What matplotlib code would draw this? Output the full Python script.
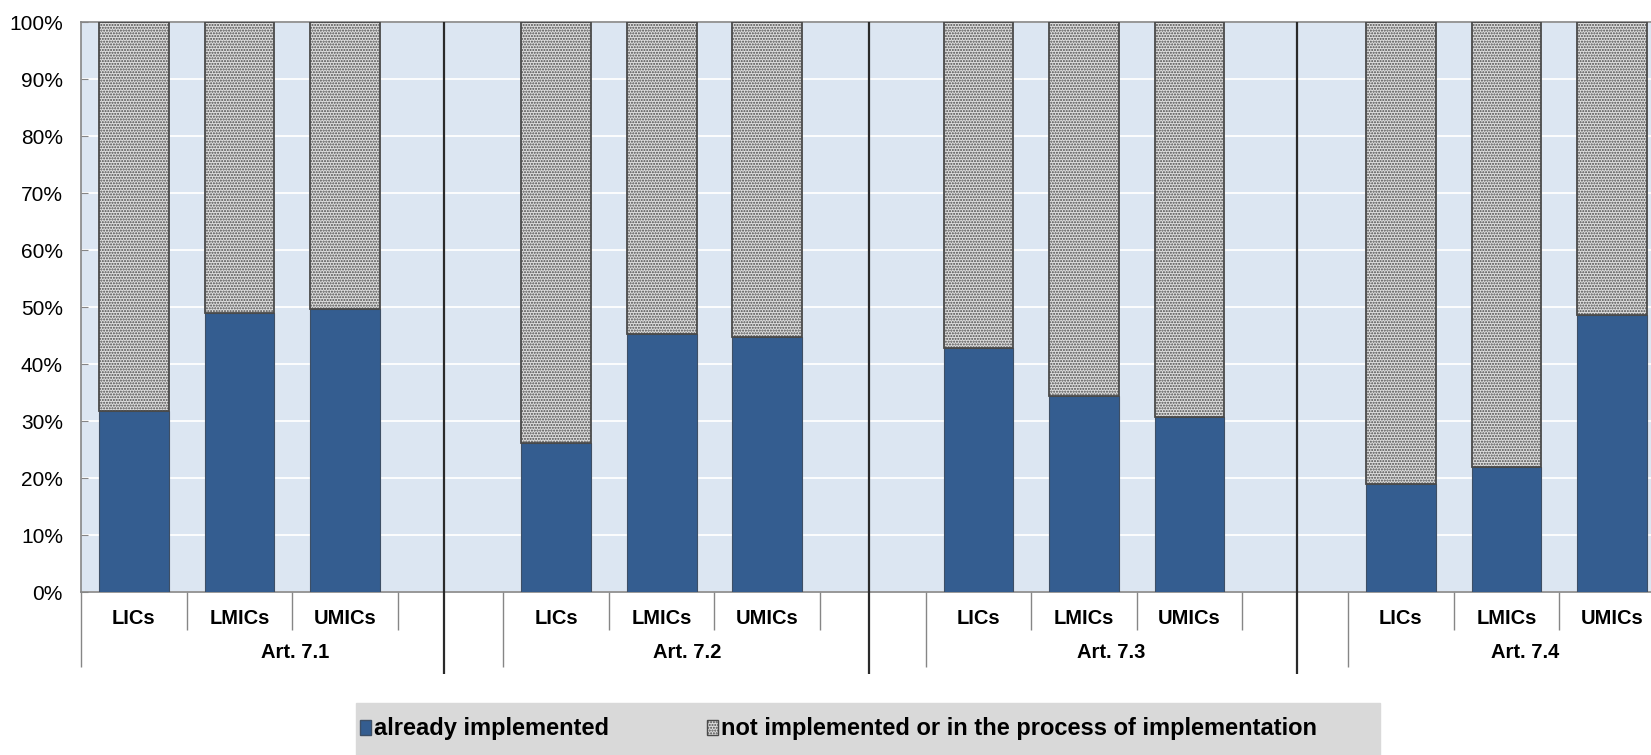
import numpy as np
import matplotlib.pyplot as plt
from matplotlib.patches import Patch, Rectangle

plt.rcParams['font.family'] = ['Liberation Sans', 'DejaVu Sans']
plt.rcParams['hatch.linewidth'] = 1.0

groups = ['Art. 7.1', 'Art. 7.2', 'Art. 7.3', 'Art. 7.4']
income = ['LICs', 'LMICs', 'UMICs']
# share "already implemented" (%) per group, order LICs, LMICs, UMICs
art71 = [31.8, 48.9, 49.6]
art72 = [26.2, 45.3, 44.8]
art73 = [42.8, 34.4, 30.7]
art74 = [19.0, 21.9, 48.7]

impl = np.array(art71 + art72 + art73 + art74)
rest = 100 - impl
x = np.array([g * 4 + i + 0.5 for g in range(len(groups)) for i in range(len(income))])
labels = income * len(groups)

# layout of the two-level category axis (data units)
sep_x = [3.44, 7.46, 11.52]
group_label_x = [2.03, 5.74, 9.76, 13.68]

blue = '#345d90'
pat_face, pat_edge = '#dedede', '#4a4a4a'
fig = plt.figure(figsize=(16.51, 7.55), dpi=100)
W, H = 1651, 755
ax = fig.add_axes([81 / W, 1 - 592 / H, 1 - 81 / W, (592 - 22.3) / H])
ax.set_facecolor('#dce6f2')

ax.bar(x, impl, width=0.66, color=blue, edgecolor='#3d4f66', lw=0.8, zorder=3)
ax.bar(x, rest, bottom=impl, width=0.66, color=pat_face, edgecolor=pat_edge,
       hatch='......', lw=1.3, zorder=3)

ax.set_xlim(0, 14.87)
ax.set_ylim(0, 100)
ax.set_yticks(range(0, 101, 10))
ax.set_yticklabels([f'{v}%' for v in range(0, 101, 10)], fontsize=15)
ax.tick_params(axis='y', direction='in', length=5, color='#868686', pad=13)
ax.yaxis.grid(True, color='white', lw=1.3)
ax.set_axisbelow(True)
ax.set_xticks([])
for s in ['left', 'bottom', 'top']:
    ax.spines[s].set_color('#868686')
    ax.spines[s].set_linewidth(1.2)
ax.spines['right'].set_visible(False)

tr = ax.get_xaxis_transform()
ah = 592 - 22.3
for xi, lab in zip(x, labels):
    ax.text(xi, -(619 - 592) / ah, lab, transform=tr, ha='center', va='center',
            fontsize=14.5, fontweight='bold')

# category and group tick lines below the axis
short = [g * 4 + k for g in range(len(groups)) for k in (1, 2, 3) if g * 4 + k < 14.87]
ax.vlines(short, -(630 - 592) / ah, 0, transform=tr, color='#868686', lw=1, clip_on=False)
ax.vlines([g * 4 for g in range(len(groups))], -(667 - 592) / ah, 0, transform=tr,
          color='#868686', lw=1, clip_on=False)
ax.vlines(sep_x, -(674 - 592) / ah, 1, transform=tr,
          color='#2a2a2a', lw=1.6, clip_on=False, zorder=4)

for gx, name in zip(group_label_x, groups):
    ax.text(gx, -(653 - 592) / ah, name, transform=tr, ha='center',
            va='center', fontsize=14.5, fontweight='bold')

# legend box
fig.patches.append(Rectangle((356 / W, 0), (1380 - 356) / W, 1 - 703 / H,
                             transform=fig.transFigure, color='#d9d9d9', zorder=0))
leg_font = {'size': 17, 'weight': 'bold'}
entries = [(Patch(facecolor=blue, edgecolor='#3d4f66'), 'already implemented', 360),
           (Patch(facecolor=pat_face, edgecolor=pat_edge, hatch='......'),
            'not implemented or in the process of implementation', 707)]
for h, lab, px in entries:
    fig.legend([h], [lab], loc='center left', bbox_to_anchor=(px / W, 1 - 729 / H),
               frameon=False, prop=leg_font, handlelength=0.45, handleheight=0.62,
               handletextpad=0.15, borderpad=0, borderaxespad=0)

fig.savefig('out.png', dpi=100)
